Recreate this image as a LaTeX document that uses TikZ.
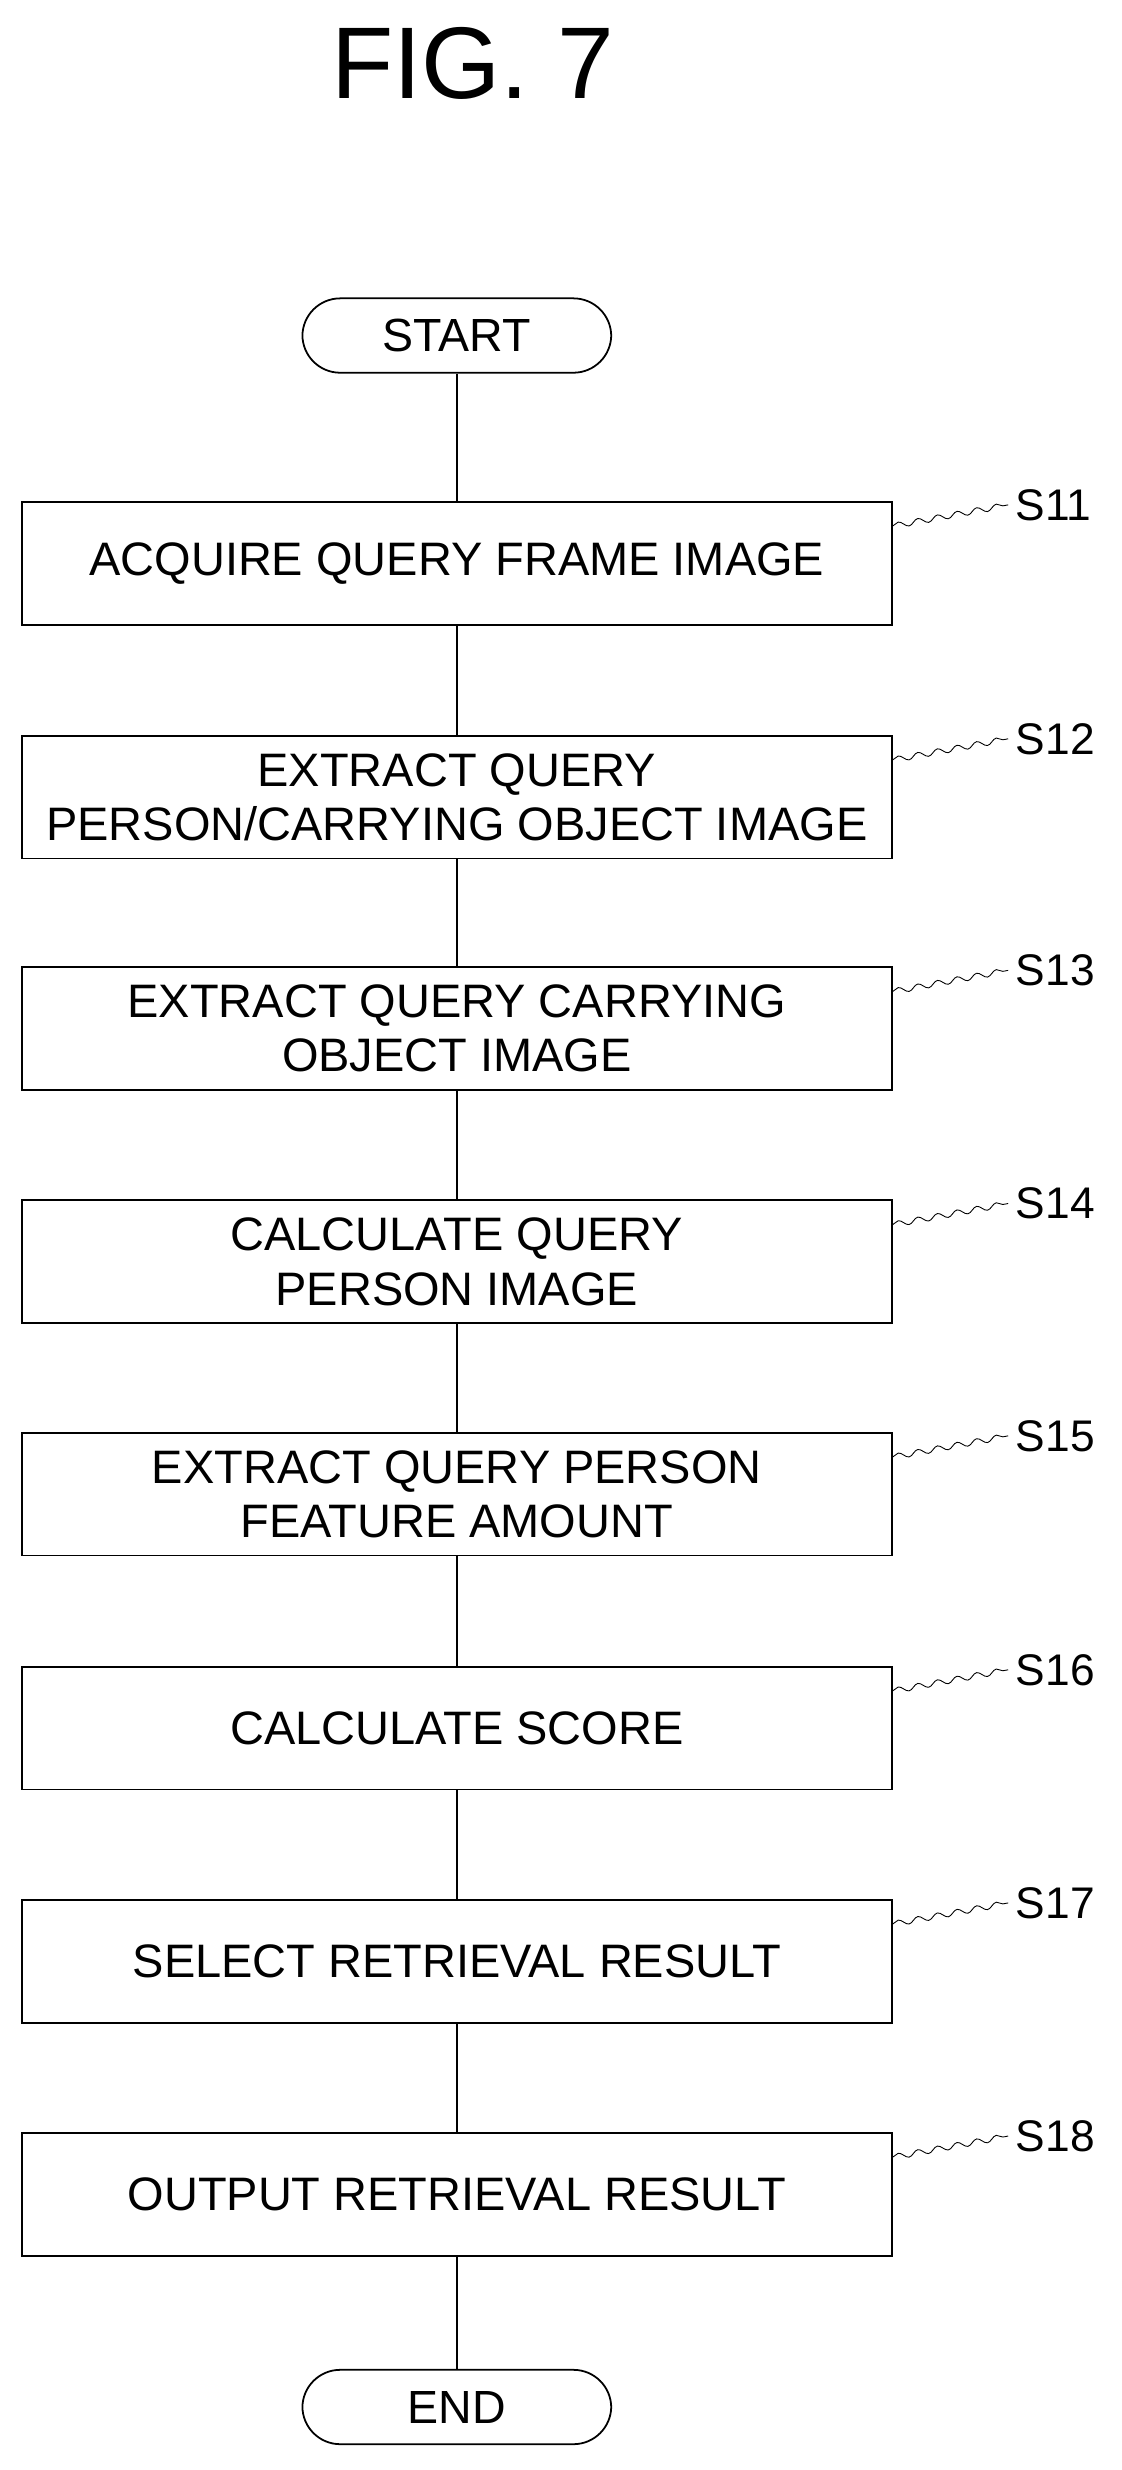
\documentclass[tikz,border=0pt]{standalone}
\usepackage{fontspec}
\setmainfont{Liberation Sans}
\usetikzlibrary{decorations.pathmorphing}
\tikzset{
  procbox/.style={draw,thick,minimum width=13.8cm,minimum height=1.95cm,align=center,font=\fontsize{21.2}{24.5}\selectfont},
  term/.style={draw,thick,rounded corners=0.6cm,minimum width=4.9cm,minimum height=1.18cm,font=\fontsize{21}{24}\selectfont},
  tag/.style={font=\fontsize{20}{23}\selectfont},
  squig/.style={decorate,decoration={snake,amplitude=1.3pt,segment length=9pt}}
}
\begin{document}
\begin{tikzpicture}[x=0.025cm,y=-0.025cm]
    \useasboundingbox (0,0) rectangle (712,1568);
    \node[font=\fontsize{46}{52}\selectfont] (title) at (300,40) {FIG. 7};

    \node[term] (start) at (290,213) {START};
    \node[term] (end) at (290,1528) {END};

    \foreach \n/\y/\txt in {11/357.5/{ACQUIRE QUERY FRAME IMAGE},
        12/506/{EXTRACT QUERY\\PERSON/CARRYING OBJECT IMAGE},
        13/653/{EXTRACT QUERY CARRYING\\OBJECT IMAGE},
        14/801/{CALCULATE QUERY\\PERSON IMAGE},
        15/948.5/{EXTRACT QUERY PERSON\\FEATURE AMOUNT},
        16/1097/{CALCULATE SCORE},
        17/1245/{SELECT RETRIEVAL RESULT},
        18/1393/{OUTPUT RETRIEVAL RESULT}} {
        \node[procbox] (s\n) at (290,\y) {\txt};
        \node[tag,anchor=west] (t\n) at (640,\y-37) {S\n};
        \draw[squig] ([yshift=-0.4cm]s\n.north east) -- (t\n.west);
    }

    \draw[thick] (start) -- (s11);
    \foreach \a/\b in {11/12,12/13,13/14,14/15,15/16,16/17,17/18}
        \draw[thick] (s\a) -- (s\b);
    \draw[thick] (s18) -- (end);
\end{tikzpicture}
\end{document}
